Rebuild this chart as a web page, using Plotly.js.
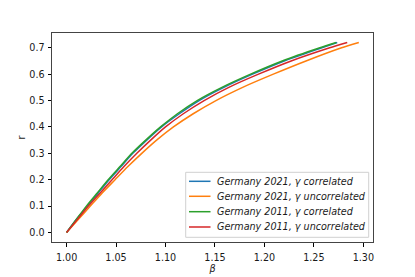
<!DOCTYPE html>
<html>
<head>
<meta charset="utf-8">
<script src="https://cdn.plot.ly/plotly-3.0.1.min.js"></script>
<style>html,body{margin:0;padding:0;background:#fff;}#chart{width:415px;height:277px;}</style>
</head>
<body>
<div id="chart"></div>
<script>
// r values (shared) and beta values per series
const rValues = [0, 0.05, 0.1, 0.15, 0.2, 0.25, 0.3, 0.35, 0.4, 0.45, 0.5, 0.55, 0.6, 0.65, 0.7, 0.72];
const beta2021Corr   = [1.000, 1.010, 1.021, 1.032, 1.043, 1.055, 1.067, 1.081, 1.096, 1.114, 1.134, 1.159, 1.188, 1.220, 1.258, 1.2736];
const beta2021Uncorr = [1.000, 1.012, 1.024, 1.036, 1.049, 1.062, 1.076, 1.091, 1.108, 1.128, 1.151, 1.178, 1.209, 1.242, 1.278, 1.2954];
const beta2011Corr   = [1.000, 1.010, 1.020, 1.031, 1.042, 1.054, 1.066, 1.080, 1.095, 1.112, 1.132, 1.157, 1.186, 1.218, 1.256, 1.2726];
const beta2011Uncorr = [1.000, 1.011, 1.022, 1.034, 1.046, 1.058, 1.071, 1.085, 1.100, 1.118, 1.139, 1.164, 1.194, 1.227, 1.266, 1.2837];
const seriesNames = [
  "Germany 2021, γ correlated",
  "Germany 2021, γ uncorrelated",
  "Germany 2011, γ correlated",
  "Germany 2011, γ uncorrelated"
];
const xTicks = [1.00, 1.05, 1.10, 1.15, 1.20, 1.25, 1.30];
const yTicks = [0.0, 0.1, 0.2, 0.3, 0.4, 0.5, 0.6, 0.7];

const colors = ["#1f77b4", "#ff7f0e", "#2ca02c", "#d62728"];
const betas = [beta2021Corr, beta2021Uncorr, beta2011Corr, beta2011Uncorr];

const traces = betas.map((b, i) => ({
  x: b, y: rValues, type: "scatter", mode: "lines",
  name: seriesNames[i], showlegend: false,
  line: {color: colors[i], width: 1.5, shape: "spline", smoothing: 0.6}
}));

const font = {family: "DejaVu Sans", size: 9.6, color: "#1a1a1a"};

// matplotlib-style legend (compact rows), built from the series names/colours
const legBox = {x0: 0.4165, x1: 0.9866, y0: 0.0225, y1: 0.3335};
const rowY = [0.2904, 0.2187, 0.1450, 0.0718];
const shapes = [{
  type: "rect", xref: "paper", yref: "paper",
  x0: legBox.x0, x1: legBox.x1, y0: legBox.y0, y1: legBox.y1,
  line: {color: "#d0d0d0", width: 1}, fillcolor: "rgba(255,255,255,0.8)", layer: "above"
}];
const annotations = [];
seriesNames.forEach((n, i) => {
  shapes.push({type: "line", xref: "paper", yref: "paper",
    x0: 0.4268, x1: 0.4938, y0: rowY[i], y1: rowY[i],
    line: {color: colors[i], width: 1.5}, layer: "above"});
  annotations.push({xref: "paper", yref: "paper", x: 0.509, y: rowY[i],
    xanchor: "left", yanchor: "middle", showarrow: false,
    text: "<i>" + n + "</i>", font: font});
});

const layout = {
  width: 415, height: 277,
  margin: {l: 52, r: 42, t: 33, b: 35},
  paper_bgcolor: "#fff", plot_bgcolor: "#fff",
  font: font,
  showlegend: false,
  shapes: shapes,
  annotations: annotations,
  xaxis: {
    range: [0.98525, 1.30975], tickvals: xTicks, tickformat: ".2f",
    showgrid: false, zeroline: false, showline: true, mirror: true,
    linecolor: "#444", linewidth: 1, ticks: "outside", ticklen: 3.5, tickwidth: 1, tickcolor: "#000",
    tickfont: font, automargin: false, ticklabelstandoff: 3,
    title: {text: "<i>β</i>", font: font, standoff: 1}
  },
  yaxis: {
    range: [-0.036, 0.756], tickvals: yTicks, tickformat: ".1f",
    showgrid: false, zeroline: false, showline: true, mirror: true,
    linecolor: "#444", linewidth: 1, ticks: "outside", ticklen: 3.5, tickwidth: 1, tickcolor: "#000",
    tickfont: font, automargin: false, ticklabelstandoff: 1,
    title: {text: "r", font: font, standoff: 1}
  }
};
Plotly.newPlot("chart", traces, layout, {displayModeBar: false, staticPlot: true});
</script>
</body>
</html>
